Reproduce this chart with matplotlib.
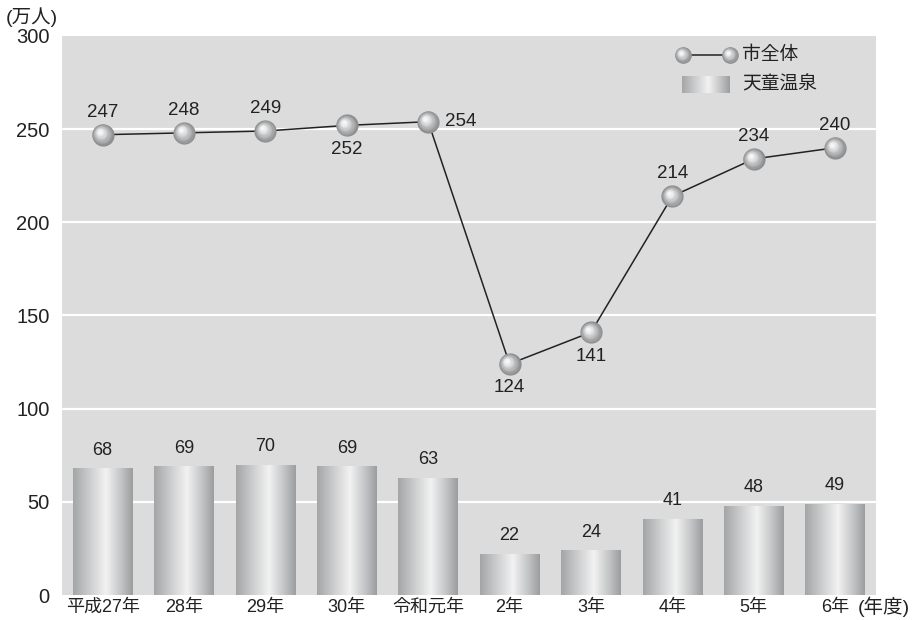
import numpy as np
import matplotlib
matplotlib.use("Agg")
import matplotlib.pyplot as plt
import matplotlib.transforms as mtrans
from matplotlib.colors import LinearSegmentedColormap

plt.rcParams['font.family'] = ['Liberation Sans', 'Noto Sans CJK JP']

categories = ['平成27年', '28年', '29年', '30年', '令和元年', '2年', '3年', '4年', '5年', '6年']
city_total = [247, 248, 249, 252, 254, 124, 141, 214, 234, 240]
tendo_onsen = [68, 69, 70, 69, 63, 22, 24, 41, 48, 49]
# label position for the line values: 'a' above, 'b' below, 'r' right
line_label_pos = ['a', 'a', 'a', 'b', 'r', 'b', 'b', 'a', 'a', 'a']

fig = plt.figure(figsize=(9.18, 6.2), dpi=100)
ax = fig.add_axes([0.0675, 0.0403, 0.8865, 0.9017])
ax.set_facecolor('#dcdcdd')
for s in ax.spines.values():
    s.set_visible(False)

x = np.arange(len(categories))

for g in [50, 100, 150, 200, 250]:
    ax.axhline(g, color='white', lw=1.6, zorder=1)

# metallic gradient for the bars
metal = LinearSegmentedColormap.from_list('metal', [
    (0.0, '#a4a5a7'), (0.3, '#cfd0d1'), (0.55, '#f2f2f2'), (0.8, '#c4c5c6'), (1.0, '#9c9d9f')])
grad = np.linspace(0, 1, 256).reshape(1, -1)
bw = 0.73
bars = ax.bar(x, tendo_onsen, width=bw, color='none', zorder=2)
for b in bars:
    x0, y0 = b.get_x(), b.get_y()
    w, h = b.get_width(), b.get_height()
    im = ax.imshow(grad, cmap=metal, aspect='auto', extent=[x0, x0 + w, y0, y0 + h], zorder=2)
    im.set_clip_path(b)
ax.set_xlim(-0.5, len(categories) - 0.5)
ax.set_ylim(0, 300)

for xi, v in zip(x, tendo_onsen):
    ax.annotate(str(v), (xi, v), xytext=(0, 7), textcoords='offset points',
                ha='center', va='bottom', fontsize=13, color='#222222')

ax.plot(x, city_total, color='#222222', lw=1.1, zorder=3)

shades = ['#8d8e90', '#98999b', '#a4a5a7', '#b0b1b3', '#bcbdbf', '#c9cacc',
          '#d6d7d8', '#e2e3e4', '#ededee', '#f6f6f6']


def spheres(xs, ys, base, ms=16.0, on_fig=False):
    # fake a shaded ball by stacking shrinking, lighter discs shifted up-left
    n = len(shades)
    for i, c in enumerate(shades):
        f = 1 - i / (n + 1.0)
        off = (1 - f) * 0.28 * ms * 0.6
        tr = base + mtrans.ScaledTranslation(-off / 72, off / 72, fig.dpi_scale_trans)
        ln = plt.Line2D(xs, ys, ls='none', marker='o', ms=ms * f, mec='none', mfc=c,
                        transform=tr, zorder=4 + 0.01 * i)
        if on_fig:
            fig.add_artist(ln)
        else:
            ln.set_clip_on(False)
            ax.add_line(ln)


spheres(x, city_total, ax.transData)

for xi, v, p in zip(x, city_total, line_label_pos):
    if p == 'a':
        off, ha, va = (0, 10), 'center', 'bottom'
    elif p == 'b':
        off, ha, va = (0, -11), 'center', 'top'
    else:
        off, ha, va = (12, 0), 'left', 'center'
    ax.annotate(str(v), (xi, v), xytext=off, textcoords='offset points',
                ha=ha, va=va, fontsize=13.5, color='#222222', zorder=5)

ax.set_xticks(x)
ax.set_xticklabels(categories, fontsize=13)
ax.set_yticks(np.arange(0, 301, 50))
ax.tick_params(axis='both', length=0, colors='#222222')
ax.tick_params(axis='y', pad=9, labelsize=14.5)
ax.tick_params(axis='x', pad=3)

fig.text(6 / 918, 0.972, '(万人)', fontsize=14, ha='left', va='center', color='#222222')
fig.text(858 / 918, 0.021, '(年度)', fontsize=14, ha='left', va='center', color='#222222')

# legend drawn by hand
ta = fig.transFigure
lx0, lx1, ly = 683 / 918, 730 / 918, 1 - 55 / 620
fig.add_artist(plt.Line2D([lx0, lx1], [ly, ly], color='#222222', lw=1.1, transform=ta))
spheres([lx0, lx1], [ly, ly], ta, ms=12, on_fig=True)
ry0, ry1 = 1 - 93 / 620, 1 - 76 / 620
lg = fig.add_axes([682 / 918, ry0, 48 / 918, ry1 - ry0])
lg.imshow(grad, cmap=metal, aspect='auto')
lg.axis('off')
fig.text(742 / 918, ly, '市全体', fontsize=13.5, va='center', color='#222222')
fig.text(742 / 918, (ry0 + ry1) / 2, '天童温泉', fontsize=13.5, va='center', color='#222222')

fig.savefig('out.png', dpi=100)
